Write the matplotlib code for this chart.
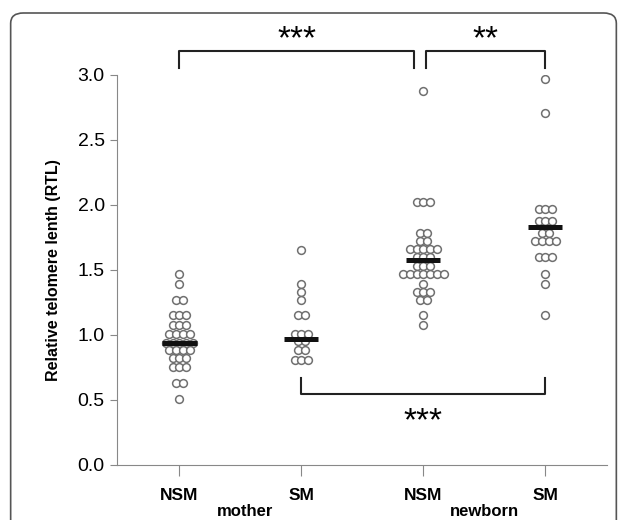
"""
Telomere length dot plot: mothers and newborns, smoking vs non-smoking.
"""

import numpy as np
import matplotlib.pyplot as plt
from matplotlib.patches import FancyBboxPatch

plt.rcParams['font.family'] = ['Liberation Sans', 'DejaVu Sans']

group_labels = ["NSM", "SM", "NSM", "SM"]
group_names = ["mother", "newborn"]

# each group: value levels and how many dots sit at that level
nsm_mother_levels = [1.47, 1.39, 1.27, 1.15, 1.075, 1.01, 0.94, 0.88, 0.82, 0.75, 0.63, 0.51]
nsm_mother_counts = [1, 1, 2, 3, 3, 4, 5, 4, 3, 3, 2, 1]
sm_mother_levels = [1.655, 1.39, 1.33, 1.27, 1.15, 1.01, 0.95, 0.88, 0.81]
sm_mother_counts = [1, 1, 1, 1, 2, 3, 2, 2, 3]
nsm_newborn_levels = [2.877, 2.025, 1.78, 1.72, 1.66, 1.60, 1.53, 1.47, 1.39, 1.33, 1.27, 1.15, 1.075]
nsm_newborn_counts = [1, 3, 2, 2, 5, 3, 3, 7, 1, 3, 2, 1, 1]
sm_newborn_levels = [2.97, 2.707, 1.97, 1.875, 1.78, 1.72, 1.60, 1.47, 1.39, 1.15]
sm_newborn_counts = [1, 1, 3, 3, 2, 4, 3, 1, 1, 1]

medians = [0.935, 0.97, 1.573, 1.83]

levels = [nsm_mother_levels, sm_mother_levels, nsm_newborn_levels, sm_newborn_levels]
counts = [nsm_mother_counts, sm_mother_counts, nsm_newborn_counts, sm_newborn_counts]


def main():
    fig = plt.figure(figsize=(6.27, 5.2), dpi=100)
    frame = FancyBboxPatch((0.017, -0.05), 0.966, 1.025, transform=fig.transFigure,
                           boxstyle="round,pad=0,rounding_size=0.02",
                           facecolor="none", edgecolor="#555555", linewidth=1.2)
    fig.patches.append(frame)

    ax = fig.add_axes([0.187, 0.106, 0.781, 0.75])
    ax.patch.set_alpha(0)
    step = 0.056
    for g in range(4):
        xc = g + 1
        xs, ys = [], []
        for v, n in zip(levels[g], counts[g]):
            for i in range(n):
                xs.append(xc + (i - (n - 1) / 2) * step)
                ys.append(v)
        ax.plot(xs, ys, "o", markersize=5.6, markerfacecolor="white",
                markeredgecolor="#707070", markeredgewidth=1.1, linestyle="none")
        ax.plot([xc - 0.14, xc + 0.14], [medians[g], medians[g]], color="#111111",
                linewidth=3.6, solid_capstyle="butt", zorder=5)

    ax.set_xlim(0.49, 4.505)
    ax.set_ylim(0, 3.0)
    ax.set_yticks(np.arange(0, 3.01, 0.5))
    ax.set_yticklabels(["%.1f" % t for t in np.arange(0, 3.01, 0.5)], fontsize=14)
    ax.set_xticks([1, 2, 3, 4])
    ax.set_xticklabels(group_labels, fontsize=12.5, fontweight="bold")
    ax.tick_params(axis="x", length=8, color="#888888", pad=9)
    ax.tick_params(axis="y", length=5, color="#888888", pad=4)
    for s in ["top", "right"]:
        ax.spines[s].set_visible(False)
    for s in ["left", "bottom"]:
        ax.spines[s].set_color("#888888")
    ax.set_ylabel("Relative telomere lenth (RTL)", fontsize=11.5, fontweight="bold", labelpad=12)

    ax.text(1.54, -0.36, group_names[0], ha="center", va="center", fontsize=12,
            fontweight="bold", clip_on=False)
    ax.text(3.5, -0.36, group_names[1], ha="center", va="center", fontsize=12,
            fontweight="bold", clip_on=False)

    # significance brackets
    kw = dict(color="#222222", linewidth=1.5, clip_on=False)
    ax.plot([1, 1, 2.92, 2.92], [3.05, 3.18, 3.18, 3.05], **kw)
    ax.plot([3.02, 3.02, 4, 4], [3.05, 3.18, 3.18, 3.05], **kw)
    ax.plot([2, 2, 4, 4], [0.67, 0.545, 0.545, 0.67], **kw)
    ax.text(1.96, 3.27, "***", ha="center", va="center", fontsize=24, clip_on=False)
    ax.text(3.51, 3.27, "**", ha="center", va="center", fontsize=24, clip_on=False)
    ax.text(3.0, 0.33, "***", ha="center", va="center", fontsize=24, clip_on=False)

    fig.savefig("out.png", dpi=100)


if __name__ == "__main__":
    main()
